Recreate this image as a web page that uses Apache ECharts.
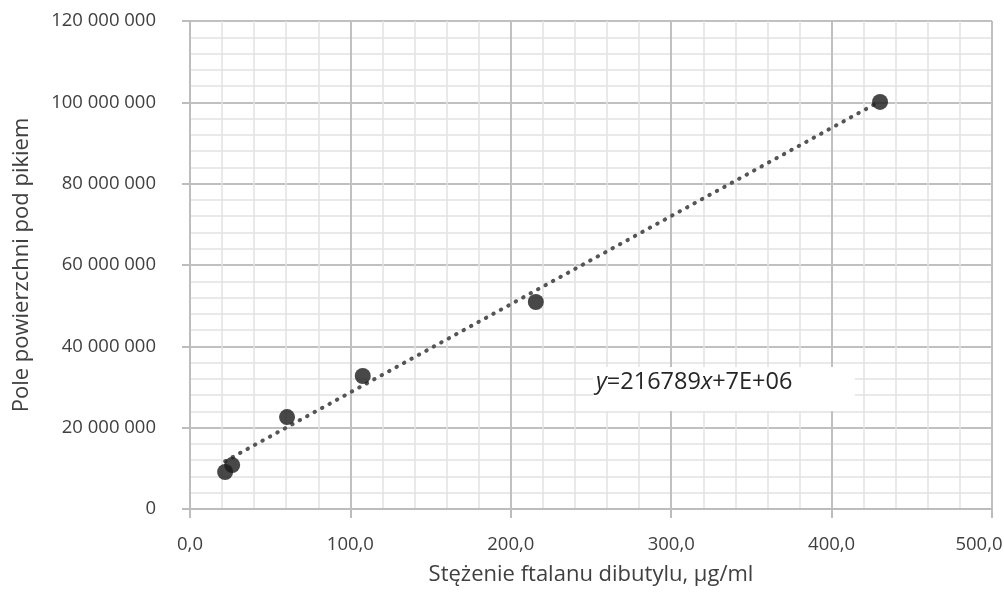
<!DOCTYPE html>
<html>
<head>
<meta charset="utf-8">
<script src="https://cdn.jsdelivr.net/npm/echarts@6/dist/echarts.min.js"></script>
<style>
html,body{margin:0;padding:0;background:#fff;}
#c{width:1004px;height:603px;}
</style>
</head>
<body>
<div id="c"></div>
<script>
// Data
const concX = [21.9, 26.3, 60.5, 107.7, 215.6, 430.2];           // µg/ml
const areaY = [9.1e6, 10.8e6, 22.6e6, 32.7e6, 50.9e6, 100.1e6];  // peak area
const trendX = [21.9, 430.2];
const trendY = [11.75e6, 100.26e6];
const equationText = '{i|y}=216789{i|x}+7E+06';
const xTitle = 'Stężenie ftalanu dibutylu, µg/ml';
const yTitle = 'Pole powierzchni pod pikiem';

const FONT = '"Open Sans", sans-serif';
const TXT = '#404040';
const X_MAX = 500;

const chart = echarts.init(document.getElementById('c'), null, {renderer: 'canvas'});

function fmtY(v){
  return String(Math.round(v)).replace(/\B(?=(\d{3})+(?!\d))/g, ' ');
}
function fmtX(v){
  const s = v.toFixed(1).replace('.', ',');
  return v === X_MAX ? '{m|' + s + '}' : s;
}

const option = {
  backgroundColor: '#ffffff',
  animation: false,
  grid: {left: 190, right: 12, top: 21, bottom: 94, containLabel: false, outerBoundsMode: 'none'},
  xAxis: {
    type: 'value', min: 0, max: X_MAX, interval: 100,
    name: xTitle, nameLocation: 'middle', nameGap: 55,
    nameTextStyle: {fontFamily: FONT, fontSize: 22, color: TXT},
    axisLine: {show: true, onZero: false, lineStyle: {color: '#bdbdbd', width: 2}},
    axisTick: {show: true, length: 9, lineStyle: {color: '#bdbdbd', width: 2}},
    axisLabel: {
      fontFamily: FONT, fontSize: 18.5, color: TXT, margin: 26, formatter: fmtX,
      rich: {m: {fontFamily: FONT, fontSize: 18.5, color: TXT, padding: [0, 26, 0, 0]}}
    },
    splitLine: {show: true, lineStyle: {color: '#c0c0c0', width: 2}},
    minorTick: {show: false, splitNumber: 5},
    minorSplitLine: {show: true, lineStyle: {color: '#e2e2e2', width: 1.5}}
  },
  yAxis: {
    type: 'value', min: 0, max: 120e6, interval: 20e6,
    name: yTitle, nameLocation: 'middle', nameGap: 157,
    nameTextStyle: {fontFamily: FONT, fontSize: 22, color: TXT},
    axisLine: {show: true, lineStyle: {color: '#bdbdbd', width: 2}},
    axisTick: {show: true, length: 8, lineStyle: {color: '#bdbdbd', width: 2}},
    axisLabel: {fontFamily: FONT, fontSize: 18.5, color: TXT, margin: 34, formatter: fmtY},
    splitLine: {show: true, lineStyle: {color: '#c0c0c0', width: 2}},
    minorTick: {show: false, splitNumber: 5},
    minorSplitLine: {show: true, lineStyle: {color: '#e2e2e2', width: 1.5}}
  },
  series: [
    {
      type: 'line',
      data: trendX.map((x, i) => [x, trendY[i]]),
      symbol: 'none',
      lineStyle: {color: '#555555', width: 4, type: [0.5, 8], cap: 'round'},
      z: 2, silent: true
    },
    {
      type: 'scatter',
      data: concX.map((x, i) => [x, areaY[i]]),
      symbol: 'circle', symbolSize: 16,
      itemStyle: {color: '#1a1a1a'},
      z: 3
    }
  ],
  graphic: [
    {
      type: 'rect', left: 593, top: 367, z: 10,
      shape: {width: 262, height: 44},
      style: {fill: '#ffffff'}
    },
    {
      type: 'text', left: 596, top: 370, z: 11,
      style: {
        text: equationText,
        fontFamily: FONT, fontSize: 23.5, fill: '#262626',
        rich: {i: {fontStyle: 'italic', fontFamily: FONT, fontSize: 23.5, fill: '#262626'}}
      }
    }
  ]
};
chart.setOption(option);
</script>
</body>
</html>
